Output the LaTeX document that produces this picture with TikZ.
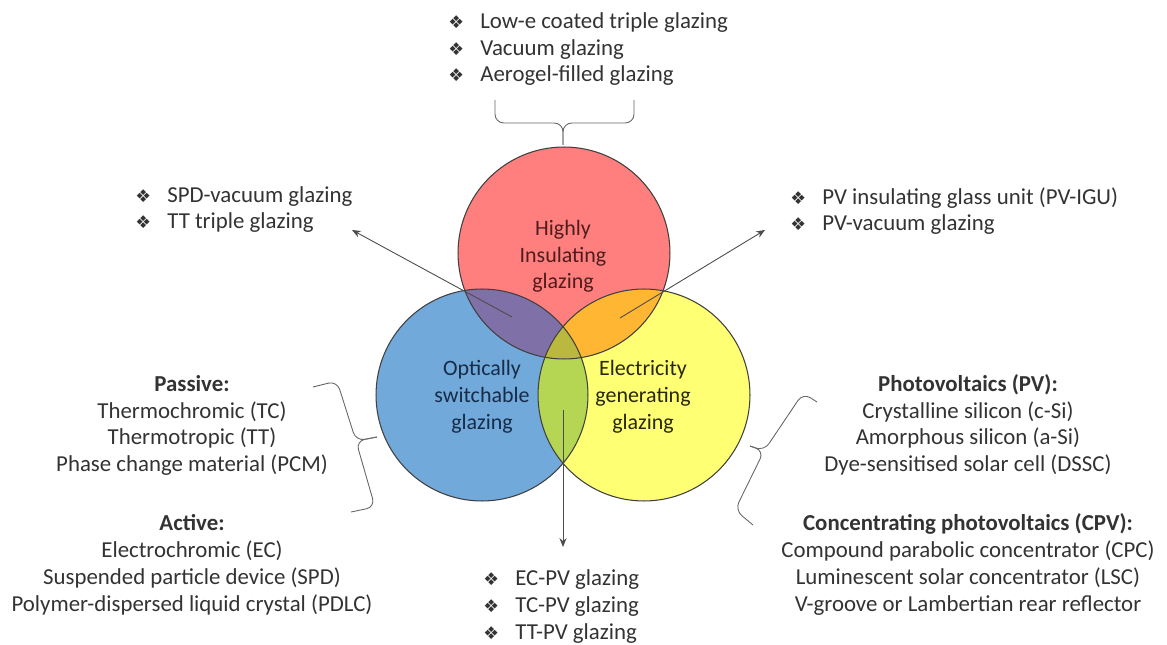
\documentclass[tikz,border=0pt]{standalone}
\usepackage{fontspec}
\setmainfont{Carlito}
\newfontfamily\bulletfont{DejaVu Sans}
\usetikzlibrary{arrows.meta}

\definecolor{hiRed}{HTML}{FF7F7F}
\definecolor{osBlue}{HTML}{72A9DB}
\definecolor{egYellow}{HTML}{FFFF73}
\definecolor{hiosPurple}{HTML}{7F70A8}
\definecolor{hiegOrange}{HTML}{FFB733}
\definecolor{osegGreen}{HTML}{B5D652}
\definecolor{allOlive}{HTML}{BAB83F}

\newcommand{\bul}{\makebox[0.64cm][l]{\bulletfont\fontsize{10}{10}\selectfont ❖}}

\tikzset{
  venn/.style={draw=black!75, line width=0.6pt},
  circtxt/.style={anchor=base, align=center, inner sep=0pt, font=\fontsize{12.5}{15.3}\selectfont},
  listtxt/.style={anchor=base west, align=left, inner sep=0pt, text=black!80, font=\fontsize{13}{15.3}\selectfont},
  blocktxt/.style={anchor=base, align=center, inner sep=0pt, text=black!80, font=\fontsize{13}{15.3}\selectfont},
  link/.style={draw=black!70, line width=0.5pt, -{Stealth[length=5pt,width=4pt]}},
  curly/.style={draw=black!60, line width=0.5pt, rounded corners=5pt}
}

\begin{document}
\begin{tikzpicture}[x=0.02cm, y=-0.02cm]
        \useasboundingbox (0,0) rectangle (1167,645);
        \fill[white] (0,0) rectangle (1167,645);

        % Define circle centres
        \coordinate (hi) at (564,253);
        \coordinate (os) at (482,395);
        \coordinate (eg) at (644,395);

        % Fill circles and overlaps
        \fill[hiRed] (hi) circle (2.12cm);
        \fill[osBlue] (os) circle (2.12cm);
        \fill[egYellow] (eg) circle (2.12cm);
        \begin{scope}
            \clip (os) circle (2.12cm);
            \fill[osegGreen] (eg) circle (2.12cm);
        \end{scope}
        \begin{scope}
            \clip (hi) circle (2.12cm);
            \fill[hiosPurple] (os) circle (2.12cm);
            \fill[hiegOrange] (eg) circle (2.12cm);
            \clip (os) circle (2.12cm);
            \fill[allOlive] (eg) circle (2.12cm);
        \end{scope}
        \draw[venn] (hi) circle (2.12cm);
        \draw[venn] (os) circle (2.12cm);
        \draw[venn] (eg) circle (2.12cm);

        % Circle labels (anchored at last baseline)
        \node[circtxt, text={rgb,255:red,80;green,28;blue,28}] (hitxt) at (563,289) {Highly\\Insulating\\glazing};
        \node[circtxt, text={rgb,255:red,22;green,44;blue,72}] (ostxt) at (482,429) {Optically\\switchable\\glazing};
        \node[circtxt, text={rgb,255:red,40;green,40;blue,10}] (egtxt) at (643,429) {Electricity\\generating\\glazing};

        % Lists
        \node[listtxt] (hilist) at (448,82) {\bul Low-e coated triple glazing\\\bul Vacuum glazing\\\bul Aerogel-filled glazing};
        \node[listtxt] (hioslist) at (135,229) {\bul SPD-vacuum glazing\\\bul TT triple glazing};
        \node[listtxt] (hieglist) at (790,231) {\bul PV insulating glass unit (PV-IGU)\\\bul PV-vacuum glazing};
        \node[listtxt] (oseglist) at (483,639) {\bul EC-PV glazing\\\bul TC-PV glazing\\\bul TT-PV glazing};

        \node[blocktxt] (oslist) at (192,611) {\textbf{Passive:}\\Thermochromic (TC)\\Thermotropic (TT)\\Phase change material (PCM)\\[18pt]
            \textbf{Active:}\\Electrochromic (EC)\\Suspended particle device (SPD)\\Polymer-dispersed liquid crystal (PDLC)};
        \node[blocktxt] (eglist) at (968,611) {\textbf{Photovoltaics (PV):}\\Crystalline silicon (c-Si)\\Amorphous silicon (a-Si)\\Dye-sensitised solar cell (DSSC)\\[18pt]
            \textbf{Concentrating photovoltaics (CPV):}\\Compound parabolic concentrator (CPC)\\Luminescent solar concentrator (LSC)\\V-groove or Lambertian rear reflector};

        % Braces
        \draw[curly] (495,100) -- (495,123) -- (563,123) -- (563,145);
        \draw[curly] (634,100) -- (634,123) -- (563,123) -- (563,145);
        \draw[curly] (313,387) -- (337,381) -- (356,441) -- (377,437);
        \draw[curly] (351,512) -- (375,507) -- (356,441) -- (377,437);
        \draw[curly] (817,402) -- (803,393) -- (764,451) -- (750,446);
        \draw[curly] (753,525) -- (735,510) -- (764,451) -- (750,446);

        % Draw arrows
        \coordinate (hiosmid) at (512,317);
        \coordinate (hiostip) at (352,230);
        \coordinate (hiegmid) at (620,318);
        \coordinate (hiegtip) at (765,230);
        \coordinate (osegmid) at (563,410);
        \coordinate (osegtip) at (563,547);
        \draw[link] (hiosmid) -- (hiostip);
        \draw[link] (hiegmid) -- (hiegtip);
        \draw[link] (osegmid) -- (osegtip);
\end{tikzpicture}
\end{document}
